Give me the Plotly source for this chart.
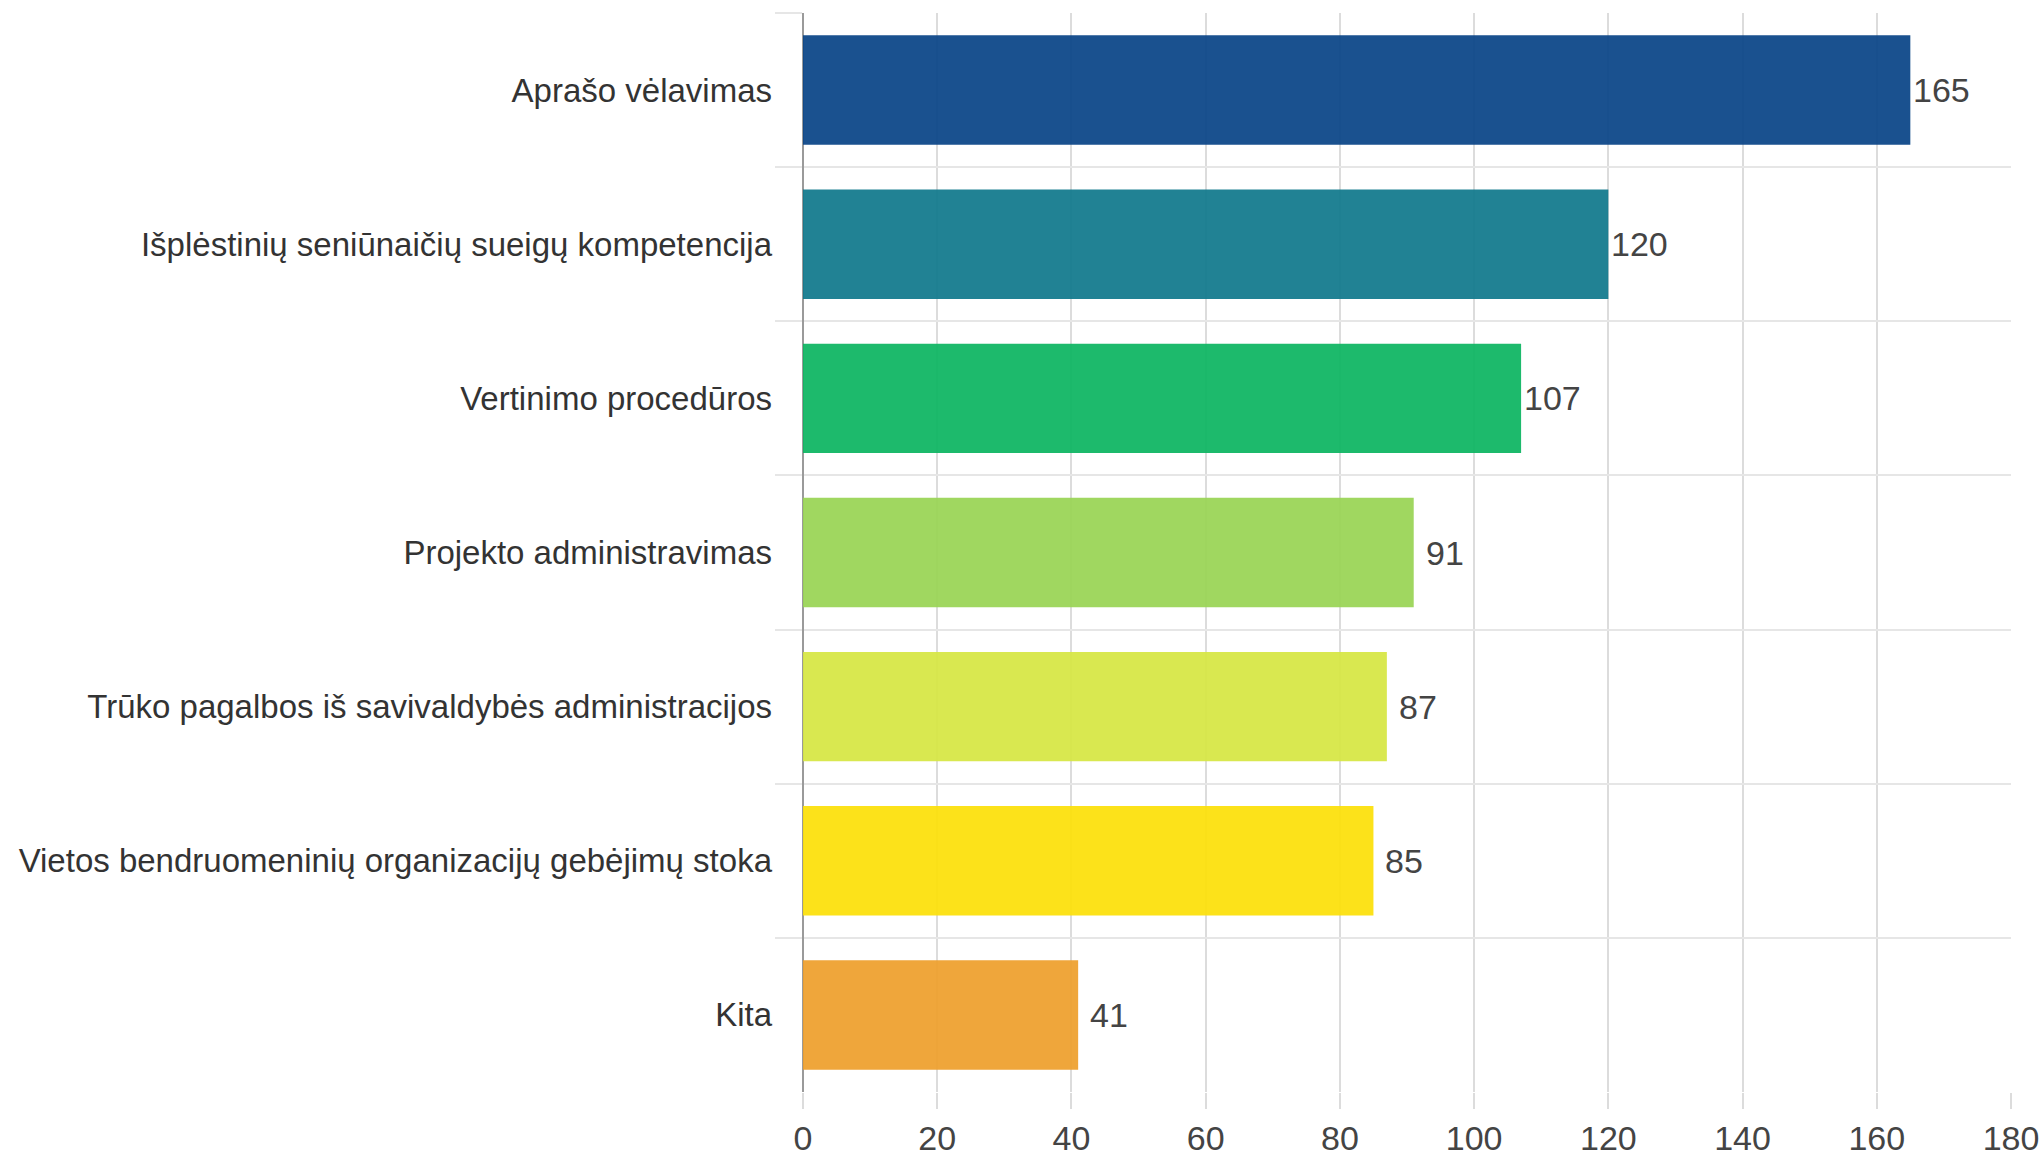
import plotly.graph_objects as go

categories = [
    "Aprašo vėlavimas",
    "Išplėstinių seniūnaičių sueigų kompetencija",
    "Vertinimo procedūros",
    "Projekto administravimas",
    "Trūko pagalbos iš savivaldybės administracijos",
    "Vietos bendruomeninių organizacijų gebėjimų stoka",
    "Kita",
]
values = [165, 120, 107, 91, 87, 85, 41]
x_ticks = [0, 20, 40, 60, 80, 100, 120, 140, 160, 180]

observed_colors = [
    (26, 81, 144),
    (33, 130, 148),
    (30, 186, 108),
    (160, 215, 96),
    (217, 232, 80),
    (252, 226, 26),
    (239, 166, 59),
]
ALPHA = 0.92


def to_rgba(c):
    base = [max(0, min(255, round((v - 255 * (1 - ALPHA)) / ALPHA))) for v in c]
    return f"rgba({base[0]},{base[1]},{base[2]},{ALPHA})"


bar_colors = [to_rgba(c) for c in observed_colors]

FONT = "Liberation Sans, Arial, sans-serif"

fig = go.Figure(
    go.Bar(
        x=values,
        y=categories,
        orientation="h",
        marker=dict(color=bar_colors, line=dict(width=0)),
        cliponaxis=False,
        hoverinfo="x+y",
    )
)

# value labels centred just beyond each bar end
for v, c in zip(values, categories):
    fig.add_annotation(
        x=v,
        y=c,
        xref="x",
        yref="y",
        text=str(v),
        showarrow=False,
        xanchor="center",
        yanchor="middle",
        xshift=31,
        font=dict(family=FONT, size=34, color="#444444"),
    )

fig.update_layout(
    template="none",
    width=2044,
    height=1156,
    margin=dict(l=803, r=33, t=13, b=64, autoexpand=False),
    paper_bgcolor="white",
    plot_bgcolor="white",
    bargap=0.29,
    showlegend=False,
    font=dict(family=FONT, size=34, color="#333333"),
    xaxis=dict(
        range=[0, 180],
        tickvals=x_ticks,
        ticktext=[str(t) for t in x_ticks],
        showgrid=True,
        gridcolor="#dcdcdc",
        gridwidth=1.5,
        zeroline=True,
        zerolinecolor="#9a9a9a",
        zerolinewidth=2,
        ticks="outside",
        ticklen=16,
        tickwidth=1.5,
        tickcolor="#dcdcdc",
        showline=False,
        automargin=False,
        tickfont=dict(family=FONT, size=34, color="#444444"),
        fixedrange=True,
    ),
    yaxis=dict(
        autorange="reversed",
        type="category",
        tickson="boundaries",
        showgrid=True,
        gridcolor="#e6e6e6",
        gridwidth=2,
        ticks="outside",
        ticklen=27,
        tickwidth=2,
        tickcolor="#e6e6e6",
        showline=False,
        zeroline=False,
        automargin=False,
        ticklabelstandoff=30,
        tickfont=dict(family=FONT, size=33, color="#333333"),
        fixedrange=True,
    ),
)

fig.write_html(
    "out.html",
    config={"displayModeBar": False},
    post_script="document.body.style.margin='0';document.body.style.overflow='hidden';",
)
